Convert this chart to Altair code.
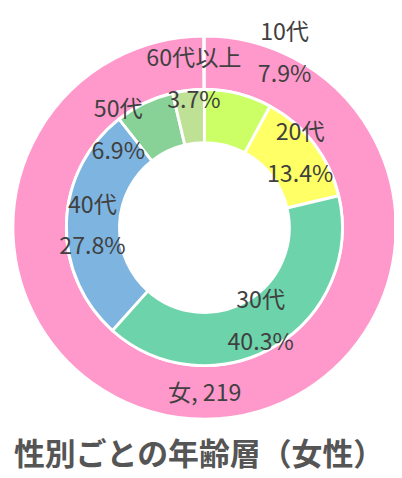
import math
import altair as alt
import pandas as pd

# ---- data ----
ages = ["10代", "20代", "30代", "40代", "50代", "60代以上"]
pct = [7.9, 13.4, 40.3, 27.8, 6.9, 3.7]
age_colors = ["#ccff66", "#ffff66", "#6dd3aa", "#7eb4e0", "#88d298", "#bfe196"]

gender = ["女"]
gender_count = [219]
gender_colors = ["#ff99cc"]

title_text = "性別ごとの年齢層（女性）"

# ---- label layout (datalabel radius in px, angular nudge in degrees) ----
label_radius = [198, 125, 114, 116, 134, 153]
label_nudge = [10.6, 0, 0, -1.3, -16, 2.6]
outer_label_radius = 173

FONT = "Noto Sans CJK JP"
CX, CY = 203.5, 219
R_OUT, R_MID, R_IN = 198.5, 143, 88

# ---- tables ----
mids = []
cum = 0.0
for p in pct:
    mids.append(cum + p / 2)
    cum += p

inner = pd.DataFrame({
    "age": ages,
    "pct": pct,
    "order": list(range(len(ages))),
    "label": [f"{a}\n{p}%" for a, p in zip(ages, pct)],
    "lt": [m + n / 3.6 for m, n in zip(mids, label_nudge)],
    "lr": label_radius,
})

outer = pd.DataFrame({
    "g": gender,
    "n": gender_count,
    "label": [f"{g}, {n}" for g, n in zip(gender, gender_count)],
})

outer_theta = alt.Theta("n:Q", stack=True,
                        scale=alt.Scale(range=[0, 2 * math.pi - 0.004]))

outer_arc = alt.Chart(outer).mark_arc(
    radius=R_OUT, radius2=R_MID, stroke="white", strokeWidth=3
).encode(
    theta=outer_theta,
    color=alt.Color("g:N", scale=alt.Scale(domain=gender, range=gender_colors), legend=None),
    x=alt.value(CX), y=alt.value(CY),
)

outer_text = alt.Chart(outer).mark_text(
    radius=outer_label_radius, font=FONT, fontSize=24, color="#404040",
    align="center", baseline="middle"
).encode(
    theta=outer_theta,
    text="label:N",
    x=alt.value(CX), y=alt.value(CY),
)

inner_arc = alt.Chart(inner).mark_arc(
    radius=R_MID, radius2=R_IN, stroke="white", strokeWidth=3
).encode(
    theta=alt.Theta("pct:Q", stack=True, scale=alt.Scale(domain=[0, 100])),
    order=alt.Order("order:Q"),
    color=alt.Color("age:N", scale=alt.Scale(domain=ages, range=age_colors), legend=None),
    x=alt.value(CX), y=alt.value(CY),
)

inner_text = alt.Chart(inner).mark_text(
    font=FONT, fontSize=24, color="#404040", align="center", baseline="middle",
    lineBreak="\n", lineHeight=43, dy=-21.5
).encode(
    theta=alt.Theta("lt:Q", stack=None, scale=alt.Scale(domain=[0, 100])),
    radius=alt.Radius("lr:Q", scale=None),
    text="label:N",
    x=alt.value(CX), y=alt.value(CY),
)

title = alt.Chart(pd.DataFrame({"t": [title_text]})).mark_text(
    font=FONT, fontSize=32, fontWeight="bold", color="#555555",
    align="center", baseline="alphabetic"
).encode(
    text="t:N",
    x=alt.value(198), y=alt.value(465),
)

chart = alt.layer(outer_arc, outer_text, inner_arc, inner_text, title).resolve_scale(
    theta="independent", color="independent"
).properties(
    width=400, height=470, padding=0,
    autosize=alt.AutoSizeParams(type="none"),
).configure_view(stroke=None)

chart.save("out.html", embed_options={"renderer": "svg", "actions": False})
